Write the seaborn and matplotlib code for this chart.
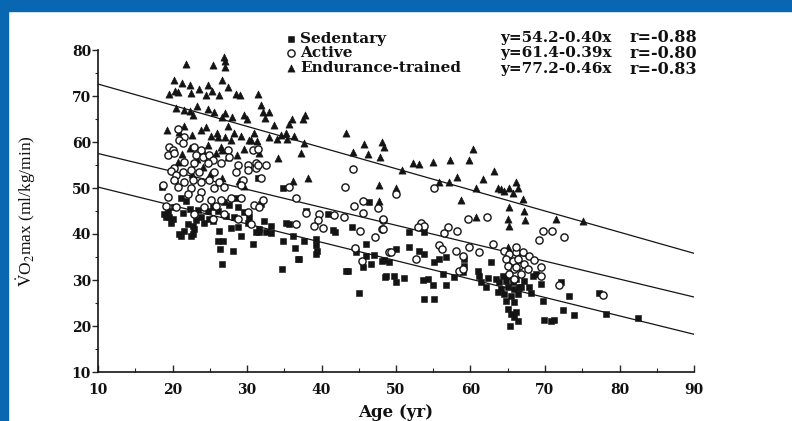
import numpy as np
import pandas as pd
import matplotlib
matplotlib.use("Agg")
import matplotlib.pyplot as plt
from matplotlib.patches import Rectangle
from matplotlib.ticker import MultipleLocator
import seaborn as sns

# ---------------- data ----------------
sed_age = [18.6, 18.9, 19.4, 19.5, 19.1, 21.1, 21.8, 20.2, 22.1, 22.8, 21.5, 20.9, 22.8, 22.9, 24.8, 25.4,
           26.1, 24.9, 26.2, 26.1, 26.8, 26.4, 28.1, 26.6, 30.8, 28.5, 28.8, 28.3, 28.8, 29.2, 31.6, 31.5,
           30.1, 23.8, 23.4, 26.9, 27.6, 31.2, 20.1, 19.8, 21.4, 22.3, 23.2, 24.2, 25.5, 27.2, 27.8, 30.3,
           21.1, 22.5, 29.6, 31.6, 31.9, 34.8, 32.3, 33.2, 31.6, 32.5, 33.2, 35.2, 35.6, 34.8, 36.2, 36.4,
           37.9, 37.7, 39.3, 39.3, 39.4, 39.3, 36.8, 34.7, 40.9, 41.5, 41.8, 44.1, 46.4, 46.0, 44.6, 46.0,
           47.1, 48.4, 49.0, 46.6, 45.6, 43.3, 48.5, 45.0, 37.0, 43.6,
           51.7, 53.8, 48.1, 50.0, 51.7, 53.1, 53.8, 55.8, 55.1, 56.7, 48.7, 49.7, 51.1, 50.0, 53.6, 54.3,
           55.0, 56.7, 56.3, 57.8, 59.0, 59.1, 59.1, 61.0, 61.1, 61.4, 62.3, 62.1, 62.8, 53.8, 55.1,
           63.4, 63.8, 64.4, 64.8, 65.2, 65.7, 66.1, 64.1, 65.0, 65.8, 66.5, 64.5, 65.4, 66.4, 64.8, 65.8,
           65.0, 65.4, 65.8, 63.7, 65.3, 68.4, 68.8, 72.1, 73.2, 69.7, 72.4, 73.9, 69.9, 70.8, 71.2, 77.2,
           78.2, 66.1, 66.4, 68.1, 67.9, 69.5, 67.2, 66.8, 82.5]
sed_vo2 = [50.3, 44.3, 44.9, 43.6, 43.6, 47.9, 47.1, 45.8, 42.1, 41.7, 40.6, 40.0, 40.0, 41.0, 44.9, 45.8,
           44.9, 43.2, 40.6, 38.4, 38.4, 36.7, 36.3, 33.5, 37.8, 47.9, 45.8, 43.6, 41.5, 39.5, 41.0, 52.2,
           42.5, 43.8, 45.3, 46.9, 46.4, 40.4, 43.2, 42.4, 44.6, 45.4, 43.0, 42.4, 42.8, 44.0, 41.2, 43.8,
           39.5, 39.5, 44.7, 46.0, 46.5, 49.9, 42.8, 41.7, 40.4, 40.4, 40.2, 42.5, 42.1, 38.4, 39.5, 36.9,
           44.9, 38.4, 38.9, 37.6, 36.3, 35.7, 34.6, 32.4, 44.3, 40.8, 40.4, 41.5, 46.9, 37.8, 36.1, 35.2,
           35.4, 34.4, 33.9, 33.5, 32.8, 32.0, 30.7, 27.2, 34.6, 32.0,
           40.4, 40.4, 34.1, 36.7, 37.2, 36.3, 35.6, 34.6, 33.9, 35.0, 30.9, 30.9, 30.5, 29.6, 30.0, 30.3,
           29.0, 29.0, 31.3, 30.7, 31.8, 33.1, 34.6, 32.0, 30.9, 29.6, 30.5, 28.5, 33.9, 25.9, 25.9,
           30.3, 29.6, 30.9, 29.8, 30.9, 29.6, 30.3, 28.1, 28.5, 28.1, 28.5, 27.0, 26.6, 27.0, 25.5, 25.3,
           23.8, 22.7, 21.9, 27.5, 20.0, 30.9, 31.3, 29.6, 26.6, 25.5, 23.4, 22.5, 21.4, 21.0, 21.2, 27.2,
           22.7, 23.1, 21.0, 27.2, 28.5, 29.2, 29.8, 28.4, 21.8]

act_age = [20.7, 21.5, 20.9, 19.5, 20.1, 19.4, 20.2, 22.9, 23.8, 23.2, 24.1, 24.9, 25.4, 24.8, 22.9, 21.5,
           27.4, 27.6, 30.8, 31.2, 30.1, 21.4, 26.5, 28.8, 20.2,
           19.8, 20.5, 21.4, 22.5, 23.6, 25.6, 28.5, 30.1, 31.2, 20.2, 21.5, 22.8, 23.8, 24.9, 26.2, 29.5,
           20.7, 22.5, 23.8, 25.6, 26.9, 29.2, 19.4, 22.1, 23.6, 25.2, 26.5, 27.9, 29.2, 20.5, 22.9, 24.2,
           25.8, 26.9, 28.8, 30.1, 30.9, 31.6, 30.5, 25.4, 19.1, 18.7, 32.5,
           31.5, 31.5, 31.9, 35.6, 36.6, 32.1, 37.9, 39.7, 39.5, 41.7, 43.0, 36.6, 39.0, 40.2, 44.2, 43.2,
           44.4, 45.6, 45.6, 47.6, 48.3, 45.2, 48.1, 47.2, 44.5, 45.4, 49.0,
           55.1, 50.0, 48.3, 48.3, 53.4, 53.8, 53.0, 57.0, 56.4, 58.2, 59.7, 62.2, 49.3, 55.8, 56.2, 58.1,
           59.8, 61.1, 59.0, 63.0, 52.7, 58.5, 64.5, 65.2, 66.1, 64.8, 65.7, 65.0, 65.8, 66.5, 65.2, 59.0,
           69.7, 70.9, 72.6, 69.2, 66.1, 67.0, 67.9, 68.5, 66.4, 67.2, 66.1, 67.7, 69.5, 66.8, 69.5, 65.8,
           71.9, 77.8]
act_vo2 = [62.8, 61.0, 60.4, 58.9, 58.3, 57.2, 57.6, 58.9, 58.3, 57.2, 56.8, 57.2, 56.1, 55.5, 55.5, 55.7,
           58.3, 56.8, 58.3, 55.5, 55.0, 59.8, 55.5, 55.0, 54.4,
           53.8, 52.9, 53.5, 54.0, 53.5, 53.5, 53.5, 54.0, 54.4, 51.8, 51.4, 51.8, 51.4, 51.8, 51.4, 51.8,
           50.3, 50.1, 49.2, 49.9, 50.3, 50.7, 48.1, 48.6, 47.9, 47.5, 47.5, 47.9, 47.9, 45.8, 44.3, 45.8,
           46.0, 44.3, 43.2, 44.7, 46.4, 45.8, 42.1, 43.2, 46.0, 50.7, 55.0,
           58.5, 55.0, 52.2, 50.3, 47.9, 47.5, 44.5, 44.3, 43.0, 44.1, 43.8, 42.1, 41.7, 41.3, 54.2, 50.3,
           46.0, 47.1, 44.5, 45.6, 43.0, 40.6, 41.0, 39.3, 36.9, 34.1, 36.1,
           49.9, 48.8, 43.2, 41.0, 42.3, 41.7, 41.5, 41.5, 40.2, 40.6, 43.2, 43.8, 36.1, 37.6, 36.7, 36.3,
           37.2, 36.1, 35.2, 37.8, 34.6, 32.0, 36.3, 35.6, 36.1, 34.6, 34.1, 33.1, 32.4, 33.1, 31.3, 32.4,
           40.6, 40.6, 39.3, 38.7, 37.2, 36.1, 35.2, 34.4, 34.6, 33.5, 32.8, 32.4, 32.8, 31.3, 30.9, 30.3,
           29.0, 26.8]

end_age = [21.8, 25.4, 26.9, 27.1, 27.1, 20.2, 21.3, 22.4, 24.7, 26.7, 27.5,
           19.5, 20.3, 20.8, 22.5, 23.5, 24.5, 25.3, 26.2, 28.5, 29.0, 31.5,
           20.5, 21.5, 22.3, 22.8, 23.3, 24.8, 25.6, 26.6, 27.1, 28.0, 29.6, 30.0, 33.0, 36.0,
           19.3, 20.9, 21.6, 22.6, 23.8, 24.5, 25.2, 26.0, 27.0, 27.5, 28.2, 29.2, 30.5, 31.3, 32.9, 34.5,
           20.0, 21.3, 22.4, 23.3, 24.1, 24.8, 25.8, 26.7, 27.4, 28.6, 29.6, 31.6, 34.2, 37.7,
           20.4, 22.6, 24.1, 25.1, 26.6, 28.9, 29.6, 20.7, 26.1, 27.9, 30.3, 30.9, 26.5,
           31.9, 32.1, 32.4, 33.6, 35.6, 37.8, 37.5, 35.2, 34.0, 35.4, 36.3, 37.2, 43.3, 45.7, 44.2, 46.2,
           47.8, 48.1, 48.4, 36.2, 38.2, 47.7, 47.7,
           52.3, 53.1, 55.0, 57.2, 59.8, 60.3, 50.8, 55.8, 57.1, 58.2, 60.7, 61.7, 63.2, 63.7, 64.1, 64.5,
           65.2, 65.7, 66.1, 66.4, 65.2, 65.0, 65.2, 58.7, 50.0, 60.7, 65.0, 67.0, 67.2, 67.3, 71.5, 75.1]
end_vo2 = [77.0, 76.7, 78.5, 77.6, 76.3, 73.5, 72.8, 72.3, 72.5, 73.5, 72.0,
           70.5, 71.0, 70.8, 70.6, 71.5, 70.3, 71.0, 70.2, 70.5, 70.2, 70.5,
           67.5, 67.0, 66.8, 65.8, 67.8, 67.2, 66.5, 65.5, 66.3, 65.5, 65.8, 65.0, 66.6, 65.1,
           62.7, 62.2, 63.5, 61.5, 62.6, 63.2, 61.3, 62.0, 61.0, 63.5, 62.0, 61.3, 60.5, 60.3, 61.0, 61.5,
           58.2, 57.5, 58.7, 56.3, 58.0, 59.3, 57.6, 58.2, 56.8, 57.2, 58.4, 57.6, 56.5, 59.8,
           52.0, 53.0, 54.5, 53.0, 52.2, 51.5, 50.5, 55.7, 61.0, 60.4, 60.4, 61.9, 58.9,
           68.0, 66.5, 65.2, 63.7, 63.9, 65.8, 65.0, 61.9, 60.6, 60.6, 61.3, 57.6, 61.9, 59.6, 57.8, 57.4,
           56.8, 60.0, 58.9, 51.6, 52.2, 50.7, 47.1,
           55.5, 55.3, 55.7, 56.1, 56.1, 58.5, 54.0, 51.4, 51.2, 52.5, 50.1, 52.0, 53.8, 50.1, 49.7, 49.3,
           50.1, 49.0, 51.2, 49.9, 45.8, 43.2, 41.7, 47.3, 49.9, 43.6, 37.2, 47.7, 44.9, 43.0, 43.2, 42.8]

groups = ["Sedentary", "Active", "Endurance-trained"]
intercepts = [54.2, 61.4, 77.2]
slopes = [-0.40, -0.39, -0.46]
r_values = ["r=-0.88", "r=-0.80", "r=-0.83"]
equations = ["y=54.2-0.40x", "y=61.4-0.39x", "y=77.2-0.46x"]
line_age = [10, 90]

x_ticks = [10, 20, 30, 40, 50, 60, 70, 80, 90]
y_ticks = [10, 20, 30, 40, 50, 60, 70, 80]

# ---------------- plotting ----------------
sns.set_theme(style="white")
plt.rcParams["mathtext.fontset"] = "stix"
serif = ["Liberation Serif", "DejaVu Serif"]
wide = ["DejaVu Serif"]
plt.rcParams["font.family"] = serif

W, H = 792, 421
fig = plt.figure(figsize=(W / 100, H / 100), dpi=100)
fig.patch.set_facecolor("white")
blue = "#0867b0"
fig.patches.append(Rectangle((0, 0), 8 / W, 1, transform=fig.transFigure, color=blue, zorder=0))
fig.patches.append(Rectangle((0, 1 - 11 / H), 1, 11 / H, transform=fig.transFigure, color=blue, zorder=0))

ax = fig.add_axes([98 / W, 1 - 372 / H, (694 - 98) / W, (372 - 50) / H])
ax.set_facecolor("none")

df_sed = pd.DataFrame({"age": sed_age, "vo2": sed_vo2})
df_act = pd.DataFrame({"age": act_age, "vo2": act_vo2})
df_end = pd.DataFrame({"age": end_age, "vo2": end_vo2})

ink = "#141414"
sns.scatterplot(data=df_sed, x="age", y="vo2", marker="s", s=21, color=ink,
                edgecolor=ink, linewidth=0.4, ax=ax, label=groups[0], zorder=3)
sns.scatterplot(data=df_act, x="age", y="vo2", marker="o", s=27, facecolor="white",
                edgecolor=ink, linewidth=1.0, ax=ax, label=groups[1], zorder=4)
sns.scatterplot(data=df_end, x="age", y="vo2", marker="^", s=27, color=ink,
                edgecolor=ink, linewidth=0.4, ax=ax, label=groups[2], zorder=3)

for b0, b1 in zip(intercepts, slopes):
    ys = [b0 + b1 * a for a in line_age]
    ax.plot(line_age, ys, color=ink, lw=0.9, zorder=2)

ax.set_xlim(10, 90)
ax.set_ylim(10, 80)
ax.set_xticks(x_ticks)
ax.set_yticks(y_ticks)
ax.xaxis.set_minor_locator(MultipleLocator(5))
ax.yaxis.set_minor_locator(MultipleLocator(5))
ax.tick_params(axis="x", which="major", direction="in", length=5, width=1, bottom=True, pad=8)
ax.tick_params(axis="x", which="minor", direction="in", length=3, width=0.8, bottom=True)
ax.tick_params(axis="y", which="major", direction="out", length=4, width=1, left=True, pad=1)
ax.tick_params(axis="y", which="minor", direction="out", length=2.5, width=0.8, left=True)
for lab in ax.get_xticklabels() + ax.get_yticklabels():
    lab.set_family(wide)
    lab.set_fontweight("bold")
    lab.set_fontsize(10)
    lab.set_color("#111111")

for side in ["top", "right"]:
    ax.spines[side].set_visible(False)
for side in ["left", "bottom"]:
    ax.spines[side].set_color(ink)
    ax.spines[side].set_linewidth(1.2)

ax.set_xlabel("Age (yr)", fontsize=12, fontweight="bold", family=wide, color="#111111", labelpad=5)
ax.set_ylabel(r"$\dot{\mathrm{V}}$O$_2$max (ml/kg/min)", fontsize=12.5, color="#111111", labelpad=24)

leg = ax.legend(loc="upper left", bbox_to_anchor=(278 / W, 1 - 24 / H),
                bbox_transform=fig.transFigure, frameon=False, borderpad=0,
                handlelength=0.7, handletextpad=0.25, labelspacing=0.03,
                prop={"family": wide, "weight": "bold", "size": 11})
for t in leg.get_texts():
    t.set_color("#111111")

rows_y = [38, 53.5, 69]
for eq, rv, yy in zip(equations, r_values, rows_y):
    fig.text(500 / W, 1 - yy / H, eq, ha="left", va="center", fontsize=11,
             fontweight="bold", family=wide, color="#111111")
    fig.text(630 / W, 1 - yy / H, rv, ha="left", va="center", fontsize=11.5,
             fontweight="bold", family=wide, color="#111111")

fig.savefig("out.png", dpi=100)
